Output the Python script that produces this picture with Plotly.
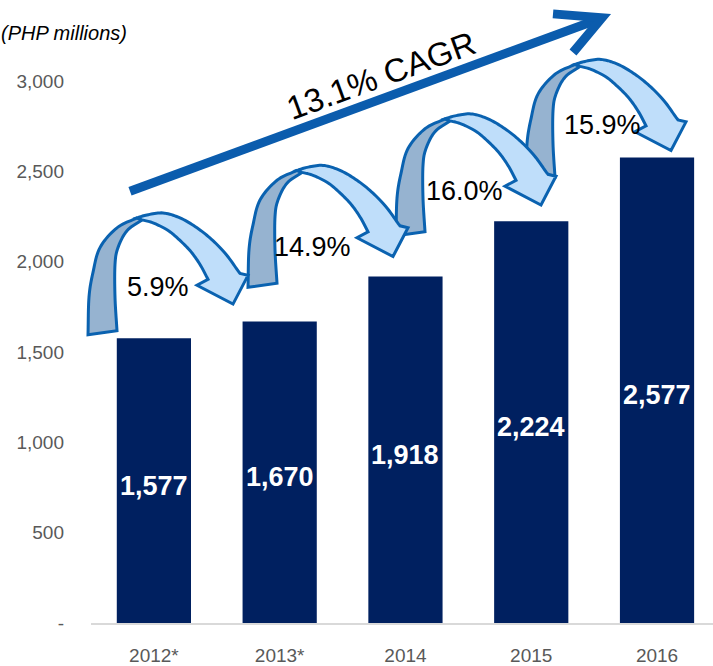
import numpy as np
import plotly.graph_objects as go

# ---------------- data ----------------
years = ["2012*", "2013*", "2014", "2015", "2016"]
revenue = [1577, 1670, 1918, 2224, 2577]
growth_labels = ["5.9%", "14.9%", "16.0%", "15.9%"]
cagr_label = "13.1% CAGR"
y_tick_vals = [0, 500, 1000, 1500, 2000, 2500, 3000]
y_tick_text = ["-", "500", "1,000", "1,500", "2,000", "2,500", "3,000"]
unit_label = "(PHP millions)"

# ---------------- layout geometry ----------------
W, H = 713, 666
ML, MR, MT, MB = 91, 0, 0, 37
PW, PH = W - ML - MR, H - MT - MB
BAR_COLOR = "#002060"
EDGE = "#0A62B0"
LIGHT = "#BFDEFA"
DARK = "#96B3D0"
FONT = "Liberation Sans, Arial, sans-serif"


def paper(px, py):
    return ((px - ML) / PW, (H - MB - py) / PH)


def smooth(pts, n=10):
    pts = np.array(pts, float)
    ext = np.vstack([2 * pts[0] - pts[1], pts, 2 * pts[-1] - pts[-2]])
    out = []
    for i in range(1, len(ext) - 2):
        p0, p1, p2, p3 = ext[i - 1], ext[i], ext[i + 1], ext[i + 2]
        for t in np.linspace(0, 1, n, endpoint=False):
            t2, t3 = t * t, t * t * t
            out.append(0.5 * ((2 * p1) + (-p0 + p2) * t
                              + (2 * p0 - 5 * p1 + 4 * p2 - p3) * t2
                              + (-p0 + 3 * p1 - 3 * p2 + p3) * t3))
    out.append(pts[-1])
    return [tuple(p) for p in out]


def path_from(points, close=True):
    pp = [paper(x, y) for x, y in points]
    s = "M " + " L ".join(f"{x:.5f},{y:.5f}" for x, y in pp)
    return s + (" Z" if close else "")


# curved arrow template (pixels, relative to the top "twist" point)
dark_outer = [(-54, 118), (-53, 80), (-49, 55), (-42, 30), (-25, 10), (-5, 0)]
dark_inner = [(0, 2), (-15, 13), (-24, 30), (-27, 47), (-27, 80), (-25, 114)]
light_outer = [(-5, 0), (5, -3), (21, -5), (38, 0), (55, 10), (71, 23), (85, 38), (95, 52), (98, 56)]
head = [(106, 58), (91, 87), (55, 68)]
light_inner = [(66, 62), (58, 47), (48, 33), (35, 20), (25, 12), (11, 5), (0, 2)]

seams = [(142, 220), (302, 172), (450, 120), (580, 65)]
pct_pos = [(158, 287), (312, 246), (464, 190), (602, 123)]

shapes = []


def tr(pts, s):
    return [(x + s[0], y + s[1]) for x, y in pts]


for s in seams:
    pts = smooth(tr(dark_outer, s)) + smooth(tr(dark_inner, s))
    shapes.append(dict(type="path", xref="paper", yref="paper", path=path_from(pts),
                       fillcolor=DARK, line=dict(color=EDGE, width=3), layer="above"))
for s in seams:
    pts = smooth(tr(light_outer, s)) + tr(head, s) + smooth(tr(light_inner, s))
    shapes.append(dict(type="path", xref="paper", yref="paper", path=path_from(pts),
                       fillcolor=LIGHT, line=dict(color=EDGE, width=3), layer="above"))

# CAGR arrow
shapes.append(dict(type="path", xref="paper", yref="paper",
                   path=path_from([(130, 193), (600, 19)], close=False),
                   line=dict(color="#0B5CAD", width=9), layer="above"))
shapes.append(dict(type="path", xref="paper", yref="paper",
                   path=path_from([(553, 14), (602, 18), (573, 53)], close=False),
                   line=dict(color="#0B5CAD", width=9), layer="above"))

fig = go.Figure()
fig.add_trace(go.Bar(x=years, y=revenue, marker=dict(color=BAR_COLOR, line=dict(width=0)),
                     hoverinfo="skip"))

annotations = []
for i, v in enumerate(revenue):
    annotations.append(dict(x=i, y=v / 2, xref="x", yref="y", text=f"{v:,}", showarrow=False,
                            yshift=-5,
                            font=dict(family=FONT, size=27, color="white", weight="bold")))
for lbl, (px, py) in zip(growth_labels, pct_pos):
    x, y = paper(px, py)
    annotations.append(dict(x=x, y=y, xref="paper", yref="paper", text=lbl, showarrow=False,
                            xanchor="center", yanchor="middle", yshift=-3,
                            font=dict(family=FONT, size=27, color="black")))
cx, cy = paper(381, 76)
annotations.append(dict(x=cx, y=cy, xref="paper", yref="paper", text=cagr_label, showarrow=False,
                        textangle=-20, xanchor="center", yanchor="middle",
                        font=dict(family=FONT, size=33, color="black")))
ux, uy = paper(129, 33)
annotations.append(dict(x=ux, y=uy, xref="paper", yref="paper", text=unit_label, showarrow=False,
                        xanchor="right", yanchor="middle",
                        font=dict(family=FONT, size=20, color="black", style="italic")))

fig.update_layout(
    width=W, height=H,
    margin=dict(l=ML, r=MR, t=MT, b=MB, pad=0),
    paper_bgcolor="white", plot_bgcolor="white",
    showlegend=False, bargap=0.41,
    shapes=shapes, annotations=annotations,
    xaxis=dict(type="category", range=[-0.5, 4.445], showline=True, linecolor="#D9D9D9",
               linewidth=2, showgrid=False, zeroline=False, ticks="",
               tickfont=dict(family=FONT, size=19, color="#595959"), ticklabelstandoff=14),
    yaxis=dict(range=[0, PH / (547 / 3000)], tickvals=y_tick_vals, ticktext=y_tick_text,
               showgrid=False, zeroline=False, showline=False, ticks="",
               tickfont=dict(family=FONT, size=19, color="#595959"), ticklabelstandoff=26),
)

fig.write_html("out.html", config={"displayModeBar": False},
               post_script="document.body.style.margin='0';document.body.style.overflow='hidden';")
